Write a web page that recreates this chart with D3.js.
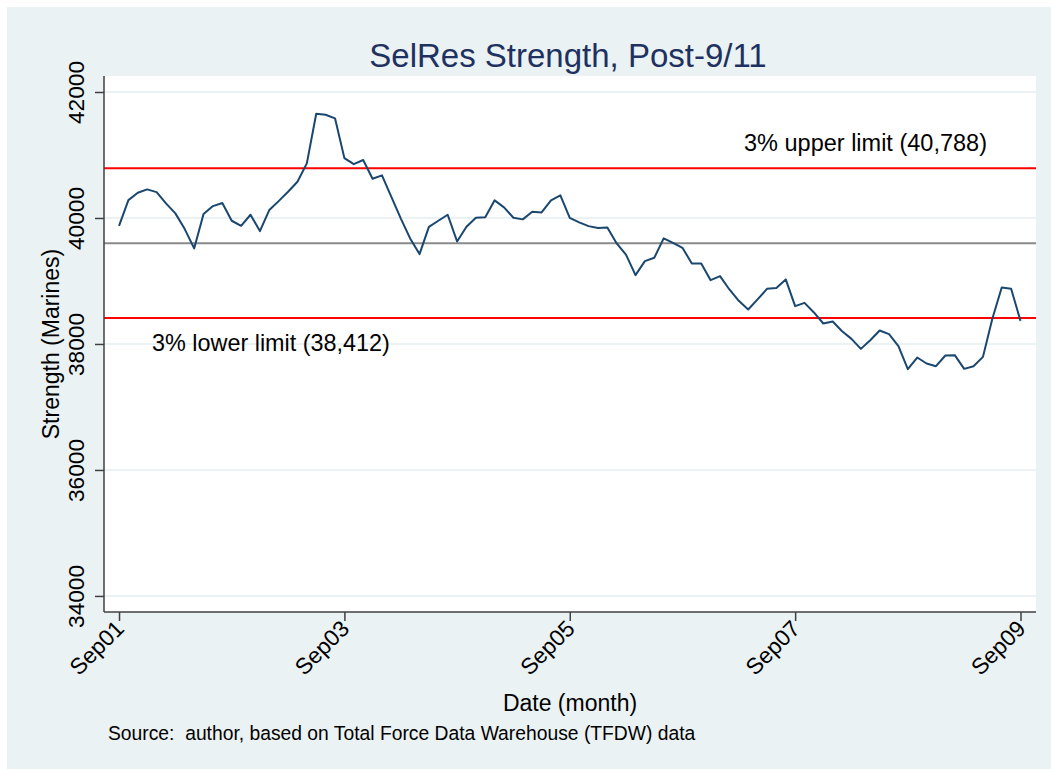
<!DOCTYPE html>
<html>
<head>
<meta charset="utf-8">
<script src="https://cdn.jsdelivr.net/npm/d3@7"></script>
<style>
  html, body { margin: 0; padding: 0; background: #ffffff; }
  svg { display: block; font-family: "Liberation Sans", Arial, sans-serif; }
</style>
</head>
<body>
<svg id="chart" width="1051" height="769"></svg>
<script>
// ---- Data (monthly, Sep 2001 .. Sep 2009) ----
const strength = [
  39876, 40284, 40400, 40454, 40411, 40232, 40073, 39824, 39517, 40062, 40189, 40237,
  39956, 39876, 40051, 39792, 40126, 40268, 40416, 40575, 40867, 41655, 41639, 41582,
  40950, 40854, 40920, 40623, 40677, 40335, 39994, 39676, 39427, 39860, 39956, 40051,
  39628, 39860, 40003, 40010, 40280, 40168, 40003, 39978, 40098, 40089, 40280, 40359,
  40003, 39930, 39871, 39842, 39850, 39596, 39415, 39093, 39315, 39368, 39676, 39606,
  39527, 39279, 39279, 39013, 39077, 38865, 38685, 38548, 38707, 38876, 38887, 39025,
  38600, 38653, 38500, 38325, 38357, 38203, 38081, 37922, 38060, 38214, 38156, 37965,
  37600, 37785, 37690, 37647, 37817, 37822, 37605, 37647, 37795, 38400, 38897, 38876,
  38367
];
const monthIndex = strength.map((d, i) => i);
const xTickValues = [0, 24, 48, 72, 96];
const xTickLabels = ["Sep01", "Sep03", "Sep05", "Sep07", "Sep09"];
const yTickValues = [34000, 36000, 38000, 40000, 42000];
const meanLevel = 39600;
const upperLimit = 40788;
const lowerLimit = 38412;
const upperLabel = "3% upper limit (40,788)";
const lowerLabel = "3% lower limit (38,412)";
const titleText = "SelRes Strength, Post-9/11";
const xTitle = "Date (month)";
const yTitle = "Strength (Marines)";
const sourceText = "Source:  author, based on Total Force Data Warehouse (TFDW) data";

// ---- Layout ----
const W = 1051, H = 769;
const plot = { left: 104, right: 1036, top: 76, bottom: 612 };

const svg = d3.select("#chart");

// outer graph region
svg.append("rect").attr("x", 7).attr("y", 7).attr("width", W - 7).attr("height", H - 7)
  .attr("fill", "#eaf2f3");
// plot region
svg.append("rect").attr("x", plot.left).attr("y", plot.top)
  .attr("width", plot.right - plot.left).attr("height", plot.bottom - plot.top)
  .attr("fill", "#ffffff");

const x = d3.scaleLinear().domain([-1.6, 97.65]).range([plot.left, plot.right]);
const y = d3.scaleLinear().domain([33745, 42254]).range([plot.bottom, plot.top]);

// gridlines
svg.append("g").selectAll("line").data(yTickValues).join("line")
  .attr("x1", plot.left).attr("x2", plot.right)
  .attr("y1", d => y(d)).attr("y2", d => y(d))
  .attr("stroke", "#eaf2f3").attr("stroke-width", 2);

// reference lines
svg.append("line").attr("x1", plot.left).attr("x2", plot.right)
  .attr("y1", y(meanLevel)).attr("y2", y(meanLevel))
  .attr("stroke", "#8a8a8a").attr("stroke-width", 2);
svg.append("g").selectAll("line").data([upperLimit, lowerLimit]).join("line")
  .attr("x1", plot.left).attr("x2", plot.right)
  .attr("y1", d => y(d)).attr("y2", d => y(d))
  .attr("stroke", "#ff0000").attr("stroke-width", 2);

// series line
const line = d3.line().x((d, i) => x(monthIndex[i])).y(d => y(d));
svg.append("path").datum(strength).attr("d", line)
  .attr("fill", "none").attr("stroke", "#1a476f").attr("stroke-width", 2)
  .attr("stroke-linejoin", "round");

// annotations
svg.append("text").attr("x", 744).attr("y", 151).attr("font-size", 23.5)
  .attr("fill", "#000").text(upperLabel);
svg.append("text").attr("x", 152).attr("y", 351).attr("font-size", 23.4)
  .attr("fill", "#000").text(lowerLabel);

// y axis
const yAxis = svg.append("g").attr("transform", `translate(${plot.left},0)`)
  .call(d3.axisLeft(y).tickValues(yTickValues).tickSize(9).tickFormat(d3.format("d")));
yAxis.select(".domain").attr("d", `M0,${plot.top}V${plot.bottom}`)
  .attr("stroke", "#404040").attr("stroke-width", 1.5);
yAxis.selectAll(".tick line").attr("stroke", "#404040").attr("stroke-width", 1.5);
yAxis.selectAll(".tick text")
  .attr("transform", "rotate(-90)")
  .attr("x", 0).attr("y", -20.5).attr("dy", 0)
  .attr("text-anchor", "middle")
  .attr("font-size", 22.7).attr("fill", "#000")
  .attr("font-family", "Liberation Sans, Arial, sans-serif");

// x axis
const xAxis = svg.append("g").attr("transform", `translate(0,${plot.bottom})`)
  .call(d3.axisBottom(x).tickValues(xTickValues).tickSize(9)
    .tickFormat((d, i) => xTickLabels[i]));
xAxis.select(".domain").attr("d", `M${plot.left},0H${plot.right}`)
  .attr("stroke", "#404040").attr("stroke-width", 1.5);
xAxis.selectAll(".tick line").attr("stroke", "#404040").attr("stroke-width", 1.5);
xAxis.selectAll(".tick text")
  .attr("transform", "translate(5.8,18) rotate(-45)")
  .attr("x", 0).attr("y", 0).attr("dy", 0)
  .attr("text-anchor", "end")
  .attr("font-size", 22.7).attr("fill", "#000")
  .attr("font-family", "Liberation Sans, Arial, sans-serif");

// axis titles
svg.append("text").attr("transform", `translate(58.5,${(plot.top + plot.bottom) / 2}) rotate(-90)`)
  .attr("text-anchor", "middle").attr("font-size", 23).attr("fill", "#000").text(yTitle);
svg.append("text").attr("x", (plot.left + plot.right) / 2).attr("y", 711)
  .attr("text-anchor", "middle").attr("font-size", 23).attr("fill", "#000").text(xTitle);

// title
svg.append("text").attr("x", 568).attr("y", 66.5)
  .attr("text-anchor", "middle").attr("font-size", 33).attr("fill", "#1e3160").text(titleText);

// source note
svg.append("text").attr("x", 108).attr("y", 740)
  .attr("font-size", 19.3).attr("fill", "#000").attr("xml:space", "preserve")
  .style("white-space", "pre").text(sourceText);
</script>
</body>
</html>
